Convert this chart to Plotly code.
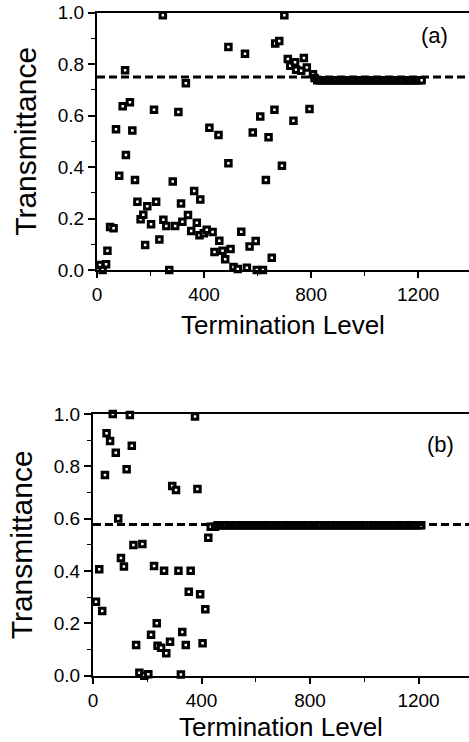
import plotly.graph_objects as go

# ---------------- data ----------------
# panel (a): scattered termination levels and transmittance
a_x = [11, 21, 34, 39, 49, 62, 71, 83, 96, 105, 108, 123, 132, 142, 151, 163, 173, 180,
       188, 202, 213, 221, 233, 246, 248, 259, 270, 283, 292, 304, 314, 319, 332, 340,
       352, 363, 373, 383, 386, 399, 410, 420, 432, 439, 454, 457, 469, 479, 491, 491,
       499, 510, 526, 539, 553, 560, 570, 582, 593, 597, 610, 620, 631, 641, 653, 663,
       666, 681, 691, 700, 713, 722, 734, 740, 744, 763, 773, 784, 794, 807, 813]
a_y = [0.019, 0.0, 0.022, 0.075, 0.167, 0.162, 0.547, 0.366, 0.636, 0.776, 0.447, 0.652,
       0.542, 0.350, 0.265, 0.197, 0.215, 0.097, 0.248, 0.178, 0.623, 0.265, 0.119, 0.99,
       0.195, 0.171, 0.0, 0.344, 0.171, 0.614, 0.258, 0.188, 0.726, 0.214, 0.152, 0.307,
       0.184, 0.135, 0.274, 0.143, 0.156, 0.553, 0.148, 0.070, 0.525, 0.114, 0.075, 0.042,
       0.867, 0.415, 0.082, 0.012, 0.004, 0.149, 0.84, 0.009, 0.091, 0.534, 0.113, 0.0,
       0.597, 0.0, 0.350, 0.516, 0.048, 0.623, 0.88, 0.89, 0.405, 0.99, 0.82, 0.794, 0.580,
       0.807, 0.778, 0.774, 0.824, 0.787, 0.626, 0.761, 0.746]
# panel (a): converged run of points
a_conv_x = [823, 833, 843, 853, 863, 873, 883, 893, 903, 913, 923, 933, 943, 953, 963,
            973, 983, 993, 1003, 1013, 1023, 1033, 1043, 1053, 1063, 1073, 1083, 1093,
            1103, 1113, 1123, 1133, 1143, 1153, 1163, 1173, 1183, 1193, 1203, 1213]
a_conv_y = 0.737
a_ref = 0.75

# panel (b)
b_x = [11, 23, 34, 44, 50, 63, 73, 84, 93, 103, 114, 124, 136, 143, 149, 159, 171, 182,
       189, 204, 214, 225, 235, 238, 251, 262, 270, 284, 292, 306, 315, 324, 329, 342,
       353, 360, 376, 385, 395, 404, 414, 425, 434, 450]
b_y = [0.283, 0.407, 0.247, 0.767, 0.926, 0.897, 1.0, 0.852, 0.601, 0.450, 0.417, 0.789,
       0.996, 0.879, 0.499, 0.117, 0.011, 0.503, 0.0, 0.006, 0.156, 0.419, 0.200, 0.114,
       0.107, 0.401, 0.086, 0.130, 0.725, 0.710, 0.401, 0.005, 0.167, 0.117, 0.321, 0.401,
       0.99, 0.713, 0.311, 0.124, 0.254, 0.527, 0.569, 0.569]
b_conv_x = [460, 470, 480, 490, 500, 510, 520, 530, 540, 550, 560, 570, 580, 590, 600,
            610, 620, 630, 640, 650, 660, 670, 680, 690, 700, 710, 720, 730, 740, 750,
            760, 770, 780, 790, 800, 810, 820, 830, 840, 850, 860, 870, 880, 890, 900,
            910, 920, 930, 940, 950, 960, 970, 980, 990, 1000, 1010, 1020, 1030, 1040,
            1050, 1060, 1070, 1080, 1090, 1100, 1110, 1120, 1130, 1140, 1150, 1160, 1170,
            1180, 1190, 1200, 1210]
b_conv_y = 0.575
b_ref = 0.578

x_ticks = [0, 400, 800, 1200]
y_ticks = [0.0, 0.2, 0.4, 0.6, 0.8, 1.0]
x_title = "Termination Level"
y_title = "Transmittance"
panel_labels = ["(a)", "(b)"]

# ---------------- figure ----------------
W, H = 469, 742
FONT = "Liberation Sans, Arial, Helvetica, sans-serif"

marker = dict(symbol="square", size=5.5, color="white",
              line=dict(color="black", width=3))

fig = go.Figure()
fig.add_trace(go.Scatter(x=a_x + a_conv_x, y=a_y + [a_conv_y] * len(a_conv_x),
                         mode="markers", marker=marker, xaxis="x", yaxis="y",
                         cliponaxis=False, showlegend=False, hoverinfo="skip"))
fig.add_trace(go.Scatter(x=b_x + b_conv_x, y=b_y + [b_conv_y] * len(b_conv_x),
                         mode="markers", marker=marker, xaxis="x2", yaxis="y2",
                         cliponaxis=False, showlegend=False, hoverinfo="skip"))

def xax(dom, rng, anchor):
    return dict(domain=dom, range=rng, anchor=anchor, tickmode="array",
                tickvals=x_ticks, ticktext=[str(v) for v in x_ticks],
                ticks="outside", ticklen=6, tickwidth=1.5, tickcolor="black",
                minor=dict(dtick=200, ticks="outside", ticklen=4, tickwidth=1.2,
                           tickcolor="black"),
                showline=True, linecolor="black", linewidth=2, mirror=True,
                showgrid=False, zeroline=False,
                tickfont=dict(family=FONT, size=19, color="black"),
                title=dict(text=x_title, standoff=12,
                           font=dict(family=FONT, size=26, color="black")))

def yax(dom, anchor):
    return dict(domain=dom, range=[0, 1], anchor=anchor, tickmode="array",
                tickvals=y_ticks, ticktext=[f"{v:.1f}" for v in y_ticks],
                ticks="outside", ticklen=7, tickwidth=1.5, tickcolor="black",
                minor=dict(dtick=0.1, ticks="outside", ticklen=4, tickwidth=1.2,
                           tickcolor="black"),
                showline=True, linecolor="black", linewidth=2, mirror=False,
                showgrid=False, zeroline=False,
                tickfont=dict(family=FONT, size=19, color="black"),
                title=dict(text=y_title, standoff=12,
                           font=dict(family=FONT, size=30, color="black")))

fig.update_layout(
    width=W, height=H,
    margin=dict(l=0, r=0, t=0, b=0, autoexpand=False),
    paper_bgcolor="white", plot_bgcolor="white",
    xaxis=xax([97 / W, 1.0], [0, 1390], "y"),
    yaxis=yax([1 - 270 / H, 1 - 12.7 / H], "x"),
    xaxis2=xax([93 / W, 1.0], [0, 1386], "y2"),
    yaxis2=yax([1 - 675.7 / H, 1 - 414 / H], "x2"),
    shapes=[
        dict(type="line", xref="x domain", yref="y", x0=0, x1=1, y0=a_ref, y1=a_ref,
             line=dict(color="black", width=3, dash="8px,4px")),
        dict(type="line", xref="x2 domain", yref="y2", x0=0, x1=1, y0=b_ref, y1=b_ref,
             line=dict(color="black", width=3, dash="8px,4px")),
    ],
    annotations=[
        dict(text=panel_labels[0], xref="paper", yref="paper", x=434 / W, y=1 - 36 / H,
             xanchor="center", yanchor="middle", showarrow=False,
             font=dict(family=FONT, size=22, color="black")),
        dict(text=panel_labels[1], xref="paper", yref="paper", x=440 / W, y=1 - 444 / H,
             xanchor="center", yanchor="middle", showarrow=False,
             font=dict(family=FONT, size=22, color="black")),
    ],
)

fig.write_html("out.html", config={"displayModeBar": False},
               post_script="document.body.style.margin='0';document.body.style.overflow='hidden';")
